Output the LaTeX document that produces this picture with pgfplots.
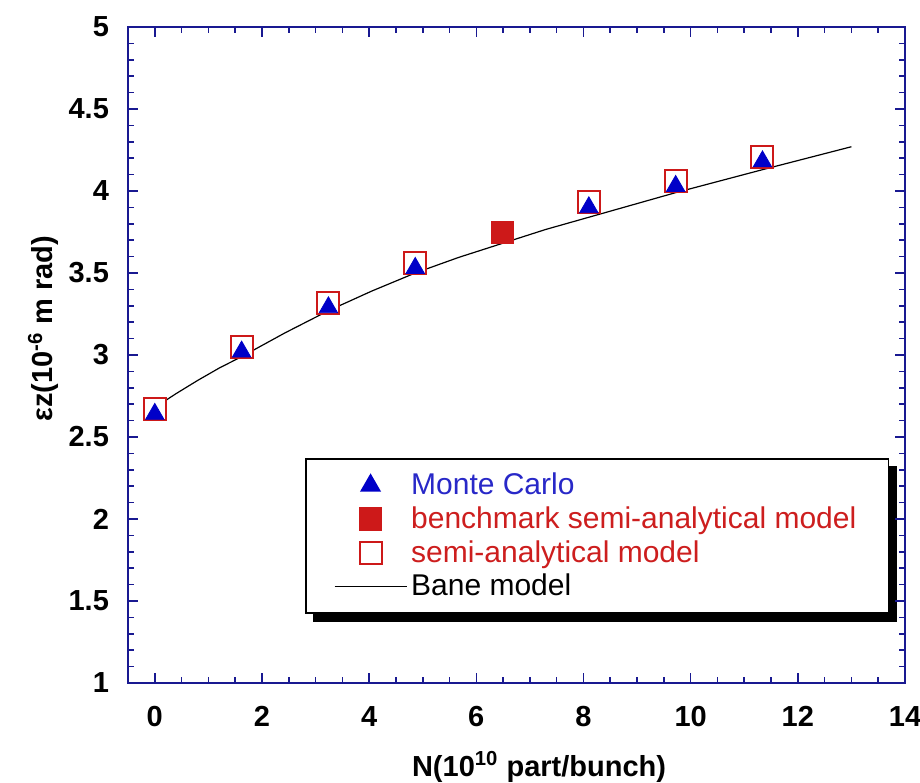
\documentclass[border=0pt]{standalone}
\usepackage{fontspec}
\setmainfont{Liberation Sans}
\usepackage{pgfplots}
\pgfplotsset{compat=1.18}
\usetikzlibrary{backgrounds}
\definecolor{frameblue}{RGB}{25,25,145}
\definecolor{mcblue}{RGB}{0,0,200}
\definecolor{sared}{RGB}{205,25,25}
\definecolor{txtblue}{RGB}{40,40,200}
\definecolor{txtred}{RGB}{205,30,30}

\begin{document}
\begin{tikzpicture}
\useasboundingbox (-64pt,-49.5pt) rectangle (396pt,341.5pt);
\begin{axis}[
  scale only axis, width=388.5pt, height=328pt,
  xmin=-0.5, xmax=14, ymin=1, ymax=5,
  xtick={0,2,...,14}, ytick={1,1.5,...,5},
  minor x tick num=3, minor y tick num=4,
  tick align=inside,
  axis line style={frameblue, line width=1pt},
  every tick/.style={frameblue, line width=0.8pt},
  major tick length=5pt, minor tick length=3pt,
  /pgf/number format/assume math mode=true,
  tick label style={font=\fontsize{14.5}{16}\selectfont\bfseries},
  xticklabel style={yshift=-8pt},
  yticklabel style={xshift=-6pt},
  xlabel={N(10\textsuperscript{10} part/bunch)},
  ylabel={εz(10\textsuperscript{-6} m rad)},
  label style={font=\fontsize{14.5}{16}\selectfont\bfseries},
  xlabel style={at={(axis description cs:0.529,-0.128)}, anchor=center},
  ylabel style={at={(axis description cs:-0.109,0.54)}, anchor=center},
  legend image code/.code={\draw[mark repeat=2,mark phase=2,#1] plot coordinates {(0pt,0pt) (18pt,0pt) (36pt,0pt)};},
  reverse legend,
  legend cell align=left,
  legend style={name=leg, at={(0.228,0.343)}, anchor=north west, draw=black, line width=0.8pt,
    fill=white, font=\fontsize{15}{16}\selectfont, inner xsep=14pt, inner ysep=5pt,
    row sep=0pt, nodes={inner ysep=2.2pt}},
]
\addplot[black, line width=0.6pt] coordinates {
  (0,2.68) (0.4,2.765) (0.8,2.845) (1.2,2.92) (1.62,2.99) (2.43,3.135) (3.24,3.27)
  (4.05,3.39) (4.86,3.50) (5.67,3.595) (6.48,3.68) (7.29,3.765) (8.1,3.84)
  (8.91,3.915) (9.72,3.99) (10.53,4.06) (11.34,4.13) (12.17,4.20) (13,4.27)};
\addlegendentry{\textcolor{black}{Bane model}}
\addplot[color=sared, only marks, mark=square*, mark size=5.5pt,
  mark options={draw=sared, fill=white, line width=1pt}] coordinates {
  (0,2.67) (1.62,3.05) (3.24,3.32) (4.86,3.56) (8.1,3.93) (9.72,4.06) (11.34,4.21)};
\addlegendentry{\textcolor{txtred}{semi-analytical model}}
\addplot[color=sared, only marks, mark=square*, mark size=5.5pt,
  mark options={draw=sared, fill=sared}] coordinates {
  (6.48,3.75)};
\addlegendentry{\textcolor{txtred}{benchmark semi-analytical model}}
\addplot[color=mcblue, only marks, mark=triangle*, mark size=5.3pt,
  mark options={draw=mcblue, fill=mcblue}] coordinates {
  (0,2.64) (1.62,3.02) (3.24,3.29) (4.86,3.53) (8.1,3.90) (9.72,4.03) (11.34,4.18)};
\addlegendentry{\textcolor{txtblue}{Monte Carlo}}
\end{axis}
\begin{scope}[on background layer]
  \fill[black] ([shift={(4pt,-4pt)}]leg.south west) rectangle ([shift={(4pt,-4pt)}]leg.north east);
\end{scope}
\end{tikzpicture}
\end{document}
